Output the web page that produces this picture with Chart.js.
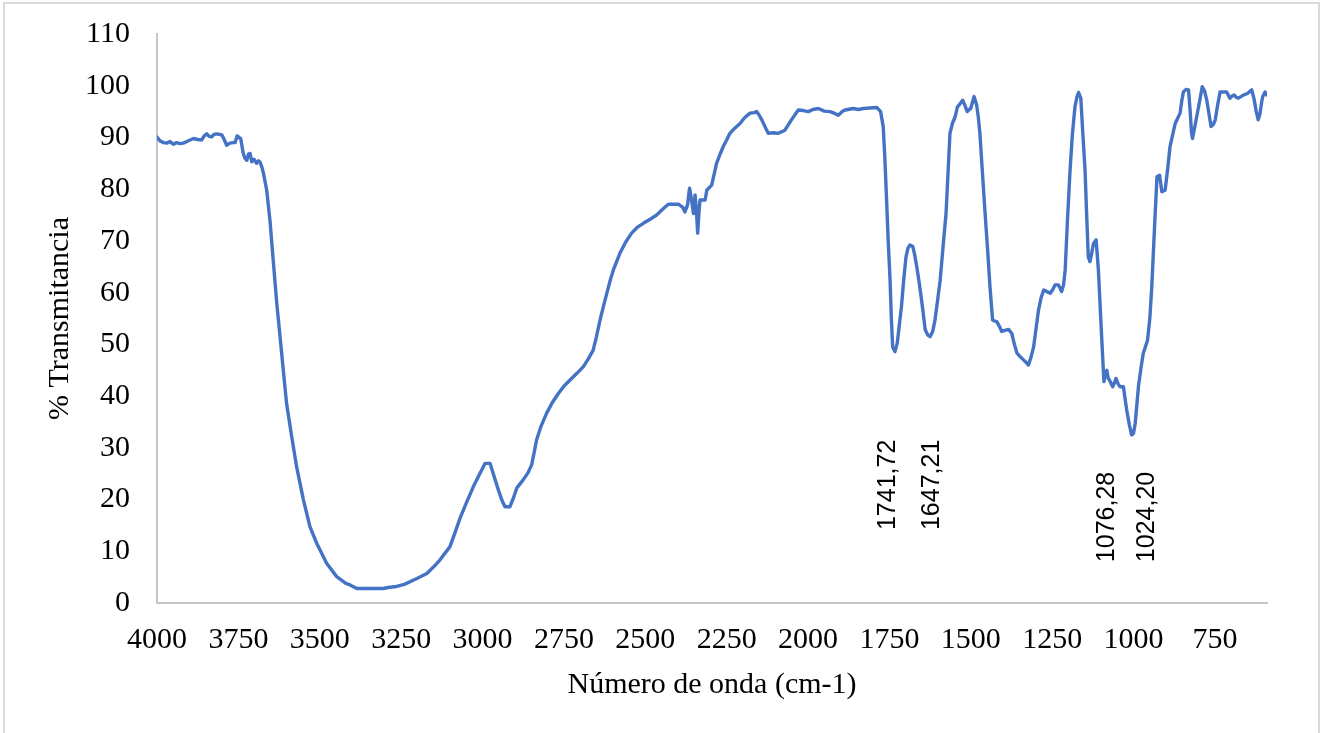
<!DOCTYPE html>
<html>
<head>
<meta charset="utf-8">
<script src="https://cdn.jsdelivr.net/npm/chart.js@4.4.1/dist/chart.umd.min.js"></script>
<style>
  html, body { margin: 0; padding: 0; background: #ffffff; overflow: hidden; }
  #wrap { position: relative; width: 1321px; height: 733px; }
  #frame { position: absolute; left: 3px; top: 2px; width: 1313px; height: 780px; border: 2px solid #d9d9d9; box-sizing: content-box; pointer-events: none; }
  canvas { position: absolute; left: 0; top: 0; }
</style>
</head>
<body>
<div id="wrap">
  <canvas id="c" width="1321" height="733"></canvas>
  <div id="frame"></div>
</div>
<script>
// ---- data ----
const waveNumber = [
  4000,3990,3980,3970,3960,3950,3940,3930,3919,3905,3888,3875,3863,3855,3847,3840,3832,3825,3817,3801,
  3795,3786,3776,3766,3760,3754,3748,3743,3738,3735,3730,3724,3719,3714,3709,3702,3694,3688,3684,3678,
  3673,3663,3653,3643,3632,3622,3612,3602,3586,3571,3550,3530,3509,3479,3448,3420,3407,3386,3350,3305,
  3290,3264,3240,3223,3200,3171,3150,3131,3100,3085,3069,3050,3028,3010,2992,2977,2965,2951,2940,2931,
  2916,2905,2895,2875,2860,2849,2840,2834,2820,2803,2785,2767,2750,2731,2710,2690,2675,2660,2650,2639,
  2628,2618,2608,2598,2578,2560,2542,2525,2506,2485,2465,2445,2429,2415,2398,2385,2378,2370,2364,2358,
  2352,2347,2343,2339,2335,2332,2316,2311,2296,2288,2281,2270,2260,2250,2240,2225,2209,2195,2178,2165,
  2158,2150,2142,2130,2122,2105,2091,2071,2050,2030,2015,1999,1985,1968,1950,1932,1920,1907,1895,1886,
  1861,1845,1830,1810,1789,1777,1769,1764,1759,1754,1748,1744,1740,1733,1726,1720,1713,1706,1699,1693,
  1687,1678,1672,1666,1660,1654,1647,1640,1632,1625,1617,1610,1602,1594,1585,1576,1570,1564,1556,1548,
  1541,1533,1525,1518,1511,1505,1500,1494,1490,1482,1477,1472,1464,1456,1448,1441,1433,1426,1420,1410,
  1405,1395,1384,1374,1366,1358,1348,1338,1330,1323,1315,1307,1300,1292,1284,1276,1266,1256,1248,1241,
  1231,1225,1221,1215,1210,1203,1195,1188,1180,1174,1169,1162,1156,1149,1144,1139,1134,1128,1123,1115,
  1108,1103,1098,1091,1086,1082,1078,1074,1064,1058,1054,1047,1041,1031,1026,1021,1013,1006,1000,995,
  990,985,977,970,957,950,944,936,928,920,913,903,895,888,872,857,852,847,838,831,
  826,822,819,812,806,797,789,782,775,768,762,755,749,741,734,714,704,697,691,685,
  678,670,663,650,637,630,623,617,612,606,603,596,591
];
const transmittance = [
  90.1,89.3,89.0,88.9,89.2,88.7,89.0,88.8,88.9,89.3,89.8,89.6,89.5,90.3,90.7,90.2,90.1,90.6,90.7,90.5,
  89.8,88.5,88.9,89.0,89.0,90.3,90.0,89.8,88.0,86.9,86.0,85.6,86.8,86.9,85.3,85.8,85.0,85.5,85.3,84.3,
  83.1,79.8,74.0,66.3,57.9,51.5,45.0,38.6,32.1,26.3,19.9,14.7,11.5,7.7,5.1,3.8,3.5,2.8,2.8,2.8,
  3.0,3.2,3.6,4.1,4.8,5.7,7.0,8.3,10.9,13.5,16.4,19.3,22.5,24.8,27.0,27.0,24.6,21.8,19.8,18.6,
  18.6,20.3,22.2,23.8,25.2,26.7,29.5,31.5,34.2,36.7,38.8,40.5,41.9,43.1,44.4,45.7,47.2,48.9,51.5,54.7,
  57.5,59.9,62.3,64.4,67.6,69.8,71.5,72.6,73.4,74.2,75.0,76.2,77.1,77.1,77.1,76.5,75.6,77.0,80.2,78.0,
  75.3,78.9,76.0,71.5,75.5,77.9,77.9,79.8,80.8,83.0,85.0,86.8,88.3,89.5,90.8,91.8,92.7,93.8,94.7,94.8,
  95.0,94.3,93.4,91.8,90.8,90.9,90.8,91.4,93.5,95.3,95.2,95.0,95.4,95.6,95.1,95.0,94.7,94.3,95.0,95.3,
  95.6,95.4,95.6,95.7,95.8,95.0,92.1,86.0,78.5,70.5,62.4,55.0,49.5,48.6,50.2,53.5,57.3,62.5,66.9,68.6,
  69.2,68.9,67.2,65.0,62.6,59.9,56.5,52.8,51.8,51.5,52.5,54.7,58.5,62.4,69.0,75.3,83.0,90.8,92.8,94.0,
  95.9,96.5,97.2,96.2,95.0,95.4,95.6,97.0,97.9,96.3,94.0,90.8,83.0,75.3,68.0,61.1,54.7,54.5,54.4,53.2,
  52.5,52.7,52.9,52.1,50.0,48.3,47.6,47.0,46.5,46.0,47.5,49.5,52.8,56.6,59.0,60.5,60.2,59.9,60.6,61.5,
  61.5,60.8,60.2,61.5,64.4,74.0,83.7,90.5,95.9,97.8,98.7,97.6,91.0,83.7,75.0,66.9,66.0,67.8,69.5,70.2,
  64.4,58.0,51.5,42.8,44.5,45.0,43.5,43.1,41.8,42.7,43.4,42.3,41.8,41.8,39.5,37.3,34.5,32.5,32.8,34.7,
  38.2,41.8,45.5,48.3,50.8,55.0,61.1,72.0,82.4,82.7,79.5,79.8,84.0,88.2,92.7,94.7,97.0,98.8,99.3,99.2,
  95.0,91.0,89.8,92.0,94.0,97.0,99.8,99.0,97.2,94.5,92.1,92.5,93.4,96.5,98.8,98.8,97.6,98.0,98.2,97.8,
  97.6,97.9,98.2,98.5,99.2,97.5,95.0,93.4,94.5,97.0,97.9,98.8,98.2
];
const xTickValues = [4000,3750,3500,3250,3000,2750,2500,2250,2000,1750,1500,1250,1000,750];
const peakLabels = ['1741,72','1647,21','1076,28','1024,20'];
const peakLabelAnchorX = [1754, 1619, 1081, 958];   // wavenumber where each label sits
const peakLabelAnchorY = [14.1, 14.1, 7.9, 7.9];    // %T at the label's lower end

const points = waveNumber.map((w, i) => ({ x: w, y: transmittance[i] }));

const serif = "'Liberation Serif', 'Times New Roman', serif";
const sans = "'Liberation Sans', Arial, sans-serif";

const peakLabelPlugin = {
  id: 'peakLabels',
  afterDatasetsDraw(chart) {
    const { ctx, scales: { x, y } } = chart;
    ctx.save();
    ctx.font = "25px " + sans;
    ctx.fillStyle = '#000000';
    ctx.textAlign = 'left';
    ctx.textBaseline = 'middle';
    peakLabels.forEach((t, i) => {
      const px = x.getPixelForValue(peakLabelAnchorX[i]);
      const py = y.getPixelForValue(peakLabelAnchorY[i]);
      ctx.save();
      ctx.translate(px, py);
      ctx.rotate(-Math.PI / 2);
      ctx.fillText(t, 0, 0);
      ctx.restore();
    });
    ctx.restore();
  }
};

new Chart(document.getElementById('c'), {
  type: 'line',
  data: {
    datasets: [{
      data: points,
      borderColor: '#4472C4',
      borderWidth: 3.4,
      borderJoinStyle: 'round',
      borderCapStyle: 'round',
      pointRadius: 0,
      tension: 0,
      fill: false
    }]
  },
  options: {
    responsive: false,
    animation: false,
    layout: { padding: { top: 34, right: 54, bottom: 0, left: 0 } },
    plugins: { legend: { display: false }, tooltip: { enabled: false } },
    scales: {
      x: {
        type: 'linear',
        reverse: true,
        min: 590,
        max: 4000,
        afterBuildTicks: (s) => { s.ticks = xTickValues.map(v => ({ value: v })); },
        afterFit: (s) => { s.height = 130; s.paddingLeft = 0; s.paddingRight = 0; },
        grid: { display: false, drawTicks: false },
        border: { display: true, color: '#c6c6c6', width: 2 },
        ticks: {
          color: '#000000',
          font: { family: serif, size: 30, lineHeight: 1.2 },
          padding: 19,
          maxRotation: 0,
          autoSkip: false,
          callback: (v) => String(v)
        },
        title: {
          display: true,
          text: 'Número de onda (cm-1)',
          color: '#000000',
          font: { family: serif, size: 30, lineHeight: 1.2 },
          padding: { top: 0, bottom: 30 }
        }
      },
      y: {
        min: 0,
        max: 110,
        afterFit: (s) => { s.width = 157; s.paddingTop = 0; s.paddingBottom = 0; },
        grid: { display: false, drawTicks: false },
        border: { display: true, color: '#c6c6c6', width: 2 },
        ticks: {
          stepSize: 10,
          color: '#000000',
          font: { family: serif, size: 30, lineHeight: 1.2 },
          padding: 27
        },
        title: {
          display: true,
          text: '% Transmitancia',
          color: '#000000',
          font: { family: serif, size: 30, lineHeight: 1.2 },
          padding: { top: 42, bottom: 0 }
        }
      }
    }
  },
  plugins: [peakLabelPlugin]
});
</script>
</body>
</html>
